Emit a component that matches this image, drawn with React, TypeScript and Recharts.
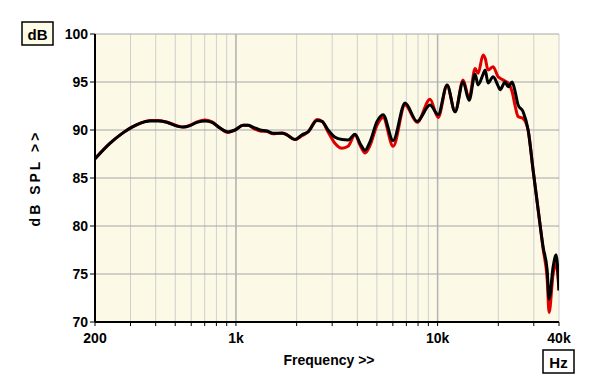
import React from 'react';
import { LineChart, Line, XAxis, YAxis, CartesianGrid, ReferenceLine } from 'recharts';

const freqs = [
  200, 237, 275, 305, 334, 375, 411, 455, 510, 547, 592, 641, 702, 761, 834, 914, 990,
  1085, 1148, 1215, 1317, 1427, 1527, 1693, 1792, 1964, 2126, 2278, 2526, 2673, 2863,
  3101, 3360, 3598, 3898, 4126, 4369, 4626, 5010, 5366, 6016, 6898, 7912, 9175, 10056,
  11144, 12210, 13380, 14330, 15350, 15880, 16810, 17200, 17800, 18850, 19950, 20420,
  21610, 22370, 23420, 24240, 25080, 26550, 28110, 29770, 31520, 33370, 34940, 35730,
  37410, 38710, 40000,
];

const redDb = [
  87.0, 88.6, 89.7, 90.3, 90.7, 91.0, 91.0, 90.8, 90.45, 90.3, 90.5, 90.85, 91.05, 90.85, 90.2, 89.75, 90.0,
  90.5, 90.5, 90.2, 89.9, 89.85, 89.6, 89.7, 89.5, 89.0, 89.4, 89.8, 91.1, 90.9, 89.8,
  88.6, 88.1, 88.3, 89.5, 88.4, 87.6, 88.4, 90.5, 91.3, 88.3, 92.6, 90.8, 93.2, 91.3,
  94.6, 91.9, 95.2, 93.3, 96.4, 95.9, 97.8, 97.5, 96.25, 96.6, 95.55, 95.4,
  95.1, 94.9, 94.0, 92.5, 91.4, 91.2, 90.0, 85.8, 81.7, 77.6, 74.5, 71.0,
  75.0, 76.1, 73.3,
];

const blackDb = [
  87.0, 88.6, 89.7, 90.3, 90.7, 90.95, 90.95, 90.8, 90.4, 90.3, 90.45, 90.8, 90.95, 90.8, 90.2, 89.8, 90.0,
  90.5, 90.5, 90.3, 90.0, 89.9, 89.65, 89.65, 89.5, 89.0, 89.5, 89.8, 91.0, 90.9, 90.0,
  89.24, 89.0, 88.96, 89.55, 88.6, 87.9, 88.8, 90.9, 91.6, 88.9, 92.8, 90.9, 92.6, 91.6,
  94.7, 91.9, 95.0, 93.1, 95.8, 94.7, 95.8, 96.25, 94.9, 95.55, 94.6, 94.2,
  95.0, 94.5, 95.0, 94.0, 92.6, 91.9, 90.0, 85.8, 81.7, 77.8, 75.4, 72.4,
  75.75, 77.0, 73.3,
];

const xTicks = [
  200, 300, 400, 500, 600, 700, 800, 900, 1000, 2000, 3000, 4000, 5000, 6000, 7000, 8000, 9000,
  10000, 20000, 30000, 40000,
];
const xLabels: Record<number, string> = { 200: '200', 1000: '1k', 10000: '10k', 40000: '40k' };
const yTicks = [70, 75, 80, 85, 90, 95, 100];
const majorFreqs = [1000, 10000];

const data = freqs.map((f, i) => ({ f, red: redDb[i], black: blackDb[i] }));

const FONT = '"Liberation Sans", Arial, Helvetica, sans-serif';
const tickStyle = { fontFamily: FONT, fontWeight: 700, fontSize: 14, fill: '#000' };

const YLabel = (props: any) => {
  const vb = props.viewBox || { x: 0, y: 34, width: 95, height: 288 };
  const cx = vb.x + 35;
  const cy = vb.y + vb.height / 2;
  return (
    <g>
      <text
        x={cx}
        y={cy}
        transform={`rotate(-90 ${cx} ${cy})`}
        textAnchor="middle"
        dominantBaseline="central"
        style={{ fontFamily: FONT, fontWeight: 700, fontSize: 14, fill: '#000', letterSpacing: 3 }}
      >
        dB SPL &gt;&gt;
      </text>
      <rect x={vb.x + 22} y={vb.y - 12} width={31} height={23} fill="#FEFCE6" stroke="#000" strokeWidth={1.5} />
      <text
        x={vb.x + 37.5}
        y={vb.y}
        textAnchor="middle"
        dominantBaseline="central"
        style={{ fontFamily: FONT, fontWeight: 700, fontSize: 15, fill: '#000' }}
      >
        dB
      </text>
    </g>
  );
};

const XLabel = (props: any) => {
  const vb = props.viewBox || { x: 95, y: 322, width: 464, height: 67 };
  const cx = vb.x + vb.width / 2 + 2;
  return (
    <g>
      <text
        x={cx}
        y={vb.y + 38}
        textAnchor="middle"
        dominantBaseline="central"
        style={{ fontFamily: FONT, fontWeight: 700, fontSize: 14, fill: '#000' }}
      >
        Frequency &gt;&gt;
      </text>
      <rect x={vb.x + vb.width - 16} y={vb.y + 28} width={31} height={23} fill="#FFFFFF" stroke="#000" strokeWidth={1.5} />
      <text
        x={vb.x + vb.width - 0.5}
        y={vb.y + 40}
        textAnchor="middle"
        dominantBaseline="central"
        style={{ fontFamily: FONT, fontWeight: 700, fontSize: 15, fill: '#000' }}
      >
        Hz
      </text>
    </g>
  );
};

export default function App() {
  return (
    <div style={{ position: 'absolute', left: 0, top: 0, width: 600, height: 389, background: '#fff', overflow: 'hidden' }}>
      <LineChart width={600} height={389} data={data} margin={{ top: 34, right: 41, left: 0, bottom: 0 }}>
        <CartesianGrid horizontal={false} vertical={true} stroke="#cfcfcf" strokeWidth={1} fill="#FCFAE6" fillOpacity={1} />
        <CartesianGrid horizontal={true} vertical={false} stroke="#a6a6a6" strokeWidth={1} />
        {majorFreqs.map((m) => (
          <ReferenceLine key={m} x={m} stroke="#b4b4b4" strokeWidth={1.5} />
        ))}
        <XAxis
          dataKey="f"
          type="number"
          scale="log"
          domain={[200, 40000]}
          allowDataOverflow
          ticks={xTicks}
          interval={0}
          tickFormatter={(v: number) => xLabels[v] || ''}
          height={67}
          tickSize={4}
          tickMargin={7}
          tick={tickStyle}
          axisLine={{ stroke: '#000', strokeWidth: 2 }}
          tickLine={{ stroke: '#000' }}
          label={<XLabel />}
        />
        <XAxis
          xAxisId="top"
          orientation="top"
          dataKey="f"
          type="number"
          scale="log"
          domain={[200, 40000]}
          allowDataOverflow
          height={0}
          tick={false}
          tickLine={false}
          axisLine={{ stroke: '#222', strokeWidth: 1.5 }}
        />
        <YAxis
          type="number"
          domain={[70, 100]}
          ticks={yTicks}
          interval={0}
          width={95}
          tickSize={5}
          tickMargin={2}
          tick={tickStyle}
          axisLine={{ stroke: '#000', strokeWidth: 2 }}
          tickLine={{ stroke: '#000' }}
          label={<YLabel />}
        />
        <YAxis
          yAxisId="right"
          orientation="right"
          type="number"
          domain={[70, 100]}
          width={0}
          tick={false}
          tickLine={false}
          axisLine={{ stroke: '#444', strokeWidth: 2 }}
        />
        <Line type="monotone" dataKey="red" stroke="#E00000" strokeWidth={3} dot={false} isAnimationActive={false} />
        <Line type="monotone" dataKey="black" stroke="#000000" strokeWidth={3} dot={false} isAnimationActive={false} />
      </LineChart>
    </div>
  );
}
